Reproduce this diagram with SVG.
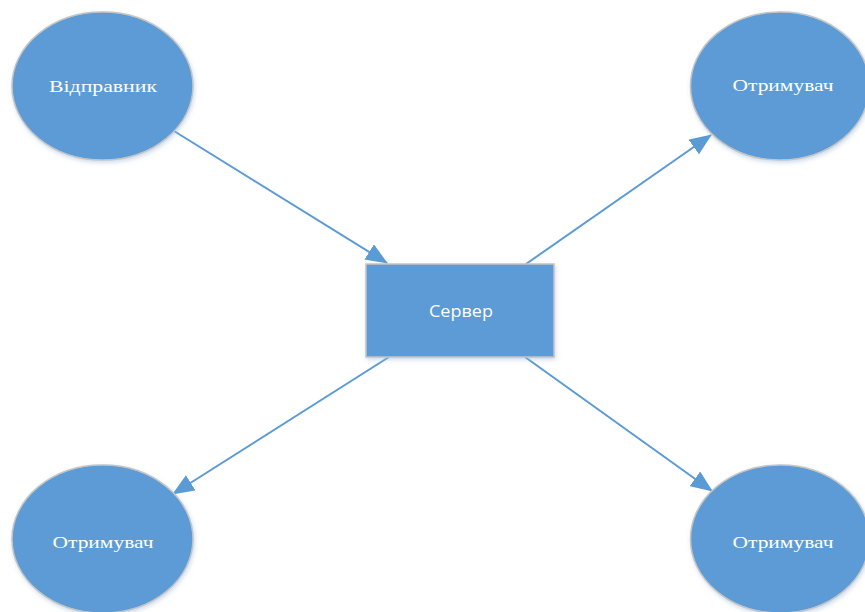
<svg xmlns="http://www.w3.org/2000/svg" width="865" height="612" viewBox="0 0 865 612">
  <style>
    .node { fill: #5b9bd5; stroke: #c4c4c4; stroke-width: 1.5; filter: url(#soft); }
    .edge { stroke: #5b9bd5; stroke-width: 2; fill: none; marker-end: url(#arrow); }
    .serif { font-family: "Liberation Serif", "Times New Roman", serif; font-size: 17px; fill: #ffffff; text-anchor: middle; }
    .sans { font-family: "Open Sans", "Liberation Sans", Arial, sans-serif; font-size: 17px; fill: #ffffff; text-anchor: middle; }
  </style>
  <defs>
    <filter id="soft" x="-10%" y="-10%" width="125%" height="125%">
      <feDropShadow dx="1" dy="2" stdDeviation="2" flood-color="#9bb8d8" flood-opacity="0.5"/>
    </filter>
    <marker id="arrow" markerUnits="userSpaceOnUse" markerWidth="22" markerHeight="18" refX="21" refY="9" orient="auto">
      <path d="M0,0 L22,9 L0,18 Z" fill="#5b9bd5"/>
    </marker>
  </defs>
  <rect width="865" height="612" fill="#ffffff"/>

  <g id="connectors">
    <line class="edge" x1="174" y1="131" x2="387" y2="263"/>
    <line class="edge" x1="526" y1="264" x2="711" y2="135"/>
    <line class="edge" x1="389" y1="357" x2="173" y2="494"/>
    <line class="edge" x1="525" y1="357" x2="712" y2="491"/>
  </g>

  <g id="sender">
    <ellipse class="node" cx="102.5" cy="86" rx="90.5" ry="74"/>
    <text class="serif" x="103" y="92" textLength="108" lengthAdjust="spacingAndGlyphs">Відправник</text>
  </g>

  <g id="server">
    <rect class="node" x="366" y="264" width="188" height="93"/>
    <text class="sans" x="461" y="317" textLength="64" lengthAdjust="spacingAndGlyphs">Сервер</text>
  </g>

  <g id="receiver-top-right">
    <ellipse class="node" cx="780" cy="86" rx="89.5" ry="74"/>
    <text class="serif" x="783" y="91" textLength="101" lengthAdjust="spacingAndGlyphs">Отримувач</text>
  </g>

  <g id="receiver-bottom-left">
    <ellipse class="node" cx="102.5" cy="539" rx="90.5" ry="74"/>
    <text class="serif" x="103" y="548" textLength="101" lengthAdjust="spacingAndGlyphs">Отримувач</text>
  </g>

  <g id="receiver-bottom-right">
    <ellipse class="node" cx="780" cy="539" rx="89.5" ry="74"/>
    <text class="serif" x="783" y="548" textLength="101" lengthAdjust="spacingAndGlyphs">Отримувач</text>
  </g>
</svg>
